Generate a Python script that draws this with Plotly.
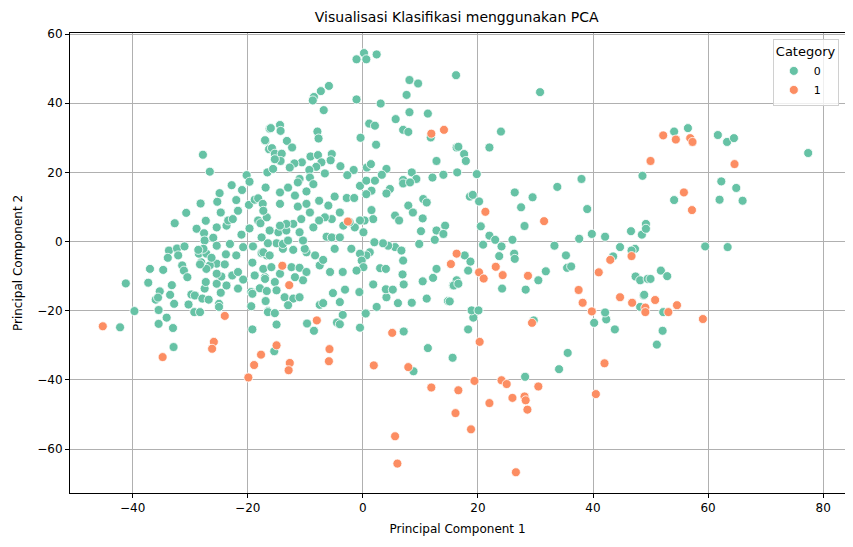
import plotly.graph_objects as go

# Category 0 (green)
cat0_x = [
    -27.8, -26.6, -22.8, -24.9, -25.3, -28.2, -30.7, -32.7, -27.3, -24.7, -28.9, -27.6, -27.5, -26.0,
    -22.0, -21.0, -20.2, -19.7, -16.9, -16.2, -16.3, -16.6, -16.9, -21.7, -19.8, -18.8, -18.2, -17.4,
    -18.2, -17.8, -19.7, -21.1, -17.6, -23.7, -25.4, -23.4, -22.6,
    -41.2, -42.2, -39.7, -37.0, -34.7, -37.3, -33.7, -32.3, -31.0, -32.1, -33.9, -31.4, -31.1, -30.5,
    -33.2, -35.3, -36.0, -35.6, -33.5, -32.8, -35.5, -34.1, -35.5, -33.0, -32.9, -30.3, -29.8, -29.2,
    -29.3, -28.3, -27.5, -27.9, -26.8, -25.0, -25.0, -27.3, -25.4, -24.7, -23.7, -24.6, -22.7, -21.7,
    -20.8, -21.7, -19.4, -19.2, -17.9, -17.0, -18.8, -19.2, -16.9, -19.4, -19.2, -16.5, -25.4, -24.0,
    -26.6, -27.2, -28.1, -28.5, -27.2, -26.3, -23.8, -22.0, -20.8, -19.1, -17.6, -23.1, -25.4, -27.7,
    -28.6, -28.3, -25.4, -16.7, -17.3,
    -1.1, 0.2, 0.6, 2.4, -5.9, -7.3, -8.5, -8.7, -6.8, -1.1, 3.1, 8.1, 9.6, 7.6, 16.2, 8.1, 11.3, 5.7,
    1.1, 2.1, 7.0, 7.9, 11.8, -0.4, 2.3, 16.3, 12.8, -16.0, -14.4, -14.3, -17.0, -13.2, -12.3, -15.8,
    -15.3, -14.1, -14.3, -15.3, -7.9, -7.7, -5.4, -5.6, -9.1, -7.8, -7.2, -8.1, -10.6, -11.9, -12.7,
    -15.6, -9.3, -6.6, -3.9, -1.6, -2.7, 0.7, 1.4, 4.1, 3.3, 8.5, 12.1, 14.0, 7.0, 9.3, -11.0, -9.2,
    -14.4, -13.0, -11.8, -11.3, -9.8, -8.6, -7.6, -6.0, -4.9, -2.8, -1.5, -0.5, 0.6, 2.1, 1.5, 0.6,
    4.7, 4.1, 7.0, 8.2, 10.5, 11.1, 7.9, 8.7, 5.6, 6.3, 1.5, 1.8, 0.3, -0.5, 0.1, 10.4, 14.3, 12.8,
    14.0, 10.1, 12.5, 9.8, 5.6, 6.7, 7.0, 4.4, 3.5, 2.0, 1.2, 0.6, -0.5, -0.2, 0.1, -1.1, 3.0, 4.0,
    6.9, 7.1, 10.4, 12.2, 12.8, 15.7, 16.3, 14.8, 11.1, 8.5, 6.1, 4.1, 4.0, 5.2, 1.8, 2.4, 0.5, -0.6,
    -3.1, -4.0, -5.2, -7.5, -6.9, -3.5, -5.7, -7.5, -6.9, -8.3, -9.8, -10.1, -12.1, -13.9, -15.0,
    -13.9, -16.5, -17.3, -16.2, -10.4, -13.0, -14.7, -16.2, -13.3, -11.0, -8.6, -6.3, -5.4, -4.0,
    -4.9, -2.0, -3.4, -1.4, -2.3, -4.0, -5.4, -6.6, -7.6, -9.2, -10.7, -12.1, -13.3, -14.4, -16.7,
    -17.3, -14.4, -11.3, -9.8, -15.9, -12.4, -11.0, -9.8, -10.4, -11.8, -14.4, -17.0, -15.3, -15.0,
    -16.7, -13.6, -12.1, -11.0, -13.0, -3.5,
    -16.5, -15.3, -15.0, -15.4, -9.7, -8.5, -4.5, -4.0, -0.5, 0.5, 7.1, 11.3, 15.6, 8.8,
    19.2, 18.3, 18.9, 20.1, 29.7, 28.2, 34.1, 35.6, 40.2, 42.3, 43.8, 42.1,
    16.4, 19.8, 38.0, 48.6, 18.6, 19.1, 20.2, 26.4, 29.5, 33.8, 27.5, 39.0, 20.5, 28.1, 22.0, 23.0,
    24.1, 26.0, 20.9, 33.3, 37.6, 39.8, 42.1, 44.7, 47.3, 46.7, 43.5, 46.6, 48.5, 49.2, 49.2, 17.7,
    18.7, 18.3, 15.8, 16.6, 15.1, 23.7, 26.3, 26.4, 35.3, 35.5, 36.2, 31.8, 30.5, 24.2, 28.3, 47.4,
    48.2, 49.5, 48.8, 48.2,
    30.8, 24.0, 22.0, 16.6, 17.6, 17.9,
    54.1, 56.5, 61.7, 63.3, 64.5, 77.4, 62.3, 64.9, 54.1, 62.0, 66.0, 59.5, 63.4,
    50.0, 51.8, 52.9, 48.9, 52.2, 52.1, 51.1,
]
cat0_y = [
    25.1, 20.2, 16.3, 14.0, 11.5, 11.0, 8.3, 5.3, 6.0, 8.4, 3.7, 2.4, 0.3, 1.1,
    12.0, 14.9, 19.2, 17.3, 29.1, 32.6, 26.7, 20.0, 15.6, 8.9, 10.6, 12.1, 12.5, 10.9,
    6.1, 5.3, 3.8, 2.0, 1.2, 4.6, 4.1, 6.1, 6.5,
    -12.1, -24.8, -20.1, -7.9, -8.2, -11.9, -2.6, -2.0, -1.4, -4.0, -4.7, -6.9, -8.4, -10.3,
    -12.6, -14.4, -16.8, -16.2, -15.4, -18.0, -19.8, -22.0, -23.8, -25.0, -30.5, -18.2, -15.3, -15.6,
    -20.4, -20.4, -13.6, -16.5, -16.8, -18.0, -18.9, -11.7, -12.2, -14.8, -12.7, -10.1, -9.8, -8.8,
    -11.0, -13.6, -14.6, -15.1, -13.5, -10.3, -9.8, -6.1, -17.2, -18.7, -25.4, -20.1, -6.4, -6.6,
    -6.9, -7.9, -6.0, -3.5, -3.5, -4.7, -3.7, -4.0, -1.6, -1.4, -3.3, -0.7, -1.2, -2.1,
    -2.4, -6.6, -9.3, -4.0, -7.9,
    52.7, 54.5, 52.7, 54.1, 45.0, 43.5, 41.8, 40.8, 38.0, 41.1, 39.9, 46.7, 45.7, 42.4, 48.1, 37.4, 37.0, 35.4,
    34.1, 33.5, 32.3, 31.7, 30.1, 30.0, 28.0, 27.2, 23.3, 32.8, 33.7, 32.0, 29.3, 29.1, 27.2, 27.0,
    25.4, 25.4, 23.3, 23.8, 31.8, 29.8, 25.3, 23.5, 24.6, 25.0, 22.9, 21.6, 22.9, 22.6, 21.4,
    21.0, 20.7, 19.7, 21.8, 20.7, 19.2, 21.4, 22.4, 21.0, 19.3, 20.0, 18.5, 19.3, 17.8, 18.1, 18.1, 18.5,
    14.2, 15.6, 13.3, 17.1, 14.5, 16.6, 11.8, 10.4, 13.0, 12.6, 12.6, 16.1, 17.6, 17.6, 14.7, 13.7,
    15.2, 13.9, 16.8, 17.1, 12.3, 11.3, 10.4, 8.4, 7.5, 6.1, 9.1, 6.5, 6.1, 6.1, 2.7, 6.7, 4.6, 3.2,
    2.2, 3.0, 0.5, -0.7, -1.6, -2.6, -5.5, -1.2, -0.5, -0.2, -3.1, -4.0, -3.5, -5.5, -7.4, -8.4, -7.7, -7.9,
    -9.5, -12.4, -11.5, -10.5, -7.9, -12.7, -11.2, -17.2, -16.5, -17.7, -17.8, -16.1, -13.8, -13.9, -12.4, -18.9, -20.7, -14.6,
    -13.9, -17.5, -14.9, -18.3, -17.8, -8.8, -8.8, -6.9, -5.3, -4.0, -3.1, -2.1, -2.4, -2.1, -0.5,
    -0.7, -0.5, -3.1, -4.0, 0.3, 0.3, 2.7, 3.2, 3.2, 2.7, 4.1, 1.4, 1.2, 1.2,
    -2.1, -2.1, 4.6, 4.1, 5.6, 8.4, 6.5, 7.0, 6.1, 8.4, 6.5, 5.1, 5.1, 4.6, 7.0,
    8.9, 10.9, 10.1, 10.9, -7.4, -7.4, -7.6, -8.8, -11.2, -10.3, -9.3, -10.8, -11.7, -14.1,
    -14.3, -16.1, -16.5, -16.1, -18.4, -21.2,
    -20.4, -20.7, -24.0, -31.7, -23.7, -25.8, -23.4, -23.9, -24.9, -20.8, -26.0, -30.8, -33.6, -37.5,
    -22.0, -25.4, -19.9, -19.9, -22.8, -39.1, -36.9, -32.2, -23.5, -22.5, -25.4, -20.5,
    20.0, 19.5, 18.1, 19.0, 13.0, 13.5, 11.6, 14.2, 12.8, 15.8, 9.9, 9.4, 4.4, 4.5, 1.7, 0.5,
    -1.4, 0.5, -0.9, -1.2, 0.8, 2.2, 1.4, -1.6, -2.1, -2.6, -4.3, 3.0, 2.0, 5.1, 3.7, -4.0,
    -5.8, -8.4, -12.7, -12.2, -17.3, -4.2, -3.5, -5.0, -4.0, -7.6, -7.2, -8.6, -11.2, -13.6, -13.9, -10.1,
    -11.2, -10.8, -15.6, -18.9,
    43.2, 31.8, 27.2, 27.4, 25.3, 23.3,
    31.8, 32.8, 30.8, 28.8, 29.9, 25.6, 17.4, 15.5, 12.0, 12.1, 11.8, -1.4, -1.6,
    -10.8, -8.4, -10.0, -15.4, -20.4, -25.8, -29.8,
]

# Category 1 (orange)
cat1_x = [
    -45.2, -34.8, -24.0, -25.9, -26.2, -17.7, -18.9, -19.9, -14.0, -12.8, -2.6, 16.3, 15.3, -8.0,
    -15.0, -12.7, -12.9, -5.8, -5.9, 1.9, 5.1, 7.9, 11.9, 16.6, 16.1, 5.6, 6.0, 11.9, 14.1,
    29.4, 20.3, 19.4, 18.8, 24.1, 25.0, 22.0, 26.0, 28.1, 28.3, 28.6, 30.5, 42.0, 40.5, 26.6, 39.8,
    21.3, 31.5, 20.2, 21.0, 23.1, 24.3, 28.7, 37.5, 38.2, 41.0, 43.0, 46.7, 44.7, 46.8, 49.1, 49.1,
    52.2, 54.4, 56.9, 57.3, 50.0, 64.6, 55.8, 57.2, 50.8, 53.1, 54.6, 59.1,
]
cat1_y = [
    -24.5, -33.4, -21.5, -29.0, -31.0, -32.7, -35.7, -39.3, -7.0, -12.6, 5.8, -3.5, -6.5, -22.8,
    -30.0, -35.1, -37.2, -31.1, -34.6, -35.8, -26.4, -36.3, -42.2, -43.0, -49.6, -56.3, -64.2, 31.2, 32.3,
    -23.5, -29.0, -40.3, -54.3, -40.1, -41.2, -46.7, -45.2, -44.8, -45.9, -48.6, -41.9, -35.2, -44.1, -66.7, -20.2,
    8.6, 5.9, -8.9, -10.7, -7.3, -9.7, -9.9, -14.0, -17.7, -8.9, -5.3, -4.2, -16.1, -17.7, -19.1, -20.4,
    30.7, 29.5, 29.9, 28.8, 23.3, 22.4, 14.2, 9.1, -16.9, -20.4, -18.4, -22.4,
]

GREEN = "#66c2a5"
ORANGE = "#fc8d62"

fig = go.Figure()
for name, xs, ys, col in [("0", cat0_x, cat0_y, GREEN), ("1", cat1_x, cat1_y, ORANGE)]:
    fig.add_trace(go.Scatter(
        x=xs, y=ys, mode="markers", name=name,
        marker=dict(color=col, size=9, line=dict(color="white", width=0.8)),
    ))

axis_style = dict(
    showgrid=True, gridcolor="#b0b0b0", gridwidth=1,
    showline=True, linecolor="black", linewidth=1, mirror=True,
    ticks="outside", ticklen=4, tickcolor="black",
    zeroline=False, tickfont=dict(size=12, color="black"),
    automargin=False, layer="above traces",
)

# page body adds an 8px offset, so the figure is a bit smaller than the window
fig.update_layout(
    width=845, height=539,
    margin=dict(l=62, r=8, t=25, b=54),
    plot_bgcolor="white", paper_bgcolor="white",
    font=dict(family="DejaVu Sans", color="black"),
    title=dict(text="Visualisasi Klasifikasi menggunakan PCA", x=0.531, xanchor="center",
               y=0.983, yanchor="middle", font=dict(size=14)),
    xaxis=dict(range=[-50.9, 83.8], dtick=20,
               title=dict(text="Principal Component 1", font=dict(size=12), standoff=10), **axis_style),
    yaxis=dict(range=[-72.7, 60.3], dtick=20,
               title=dict(text="Principal Component 2", font=dict(size=12), standoff=12), **axis_style),
    legend=dict(title=dict(text="Category", side="top"), x=0.992, y=0.988, xanchor="right", yanchor="top",
                bordercolor="#d0d0d0", borderwidth=1, bgcolor="rgba(255,255,255,0.8)",
                font=dict(size=11), itemwidth=30, tracegroupgap=2),
    showlegend=True,
)

fig.write_html("out.html")
